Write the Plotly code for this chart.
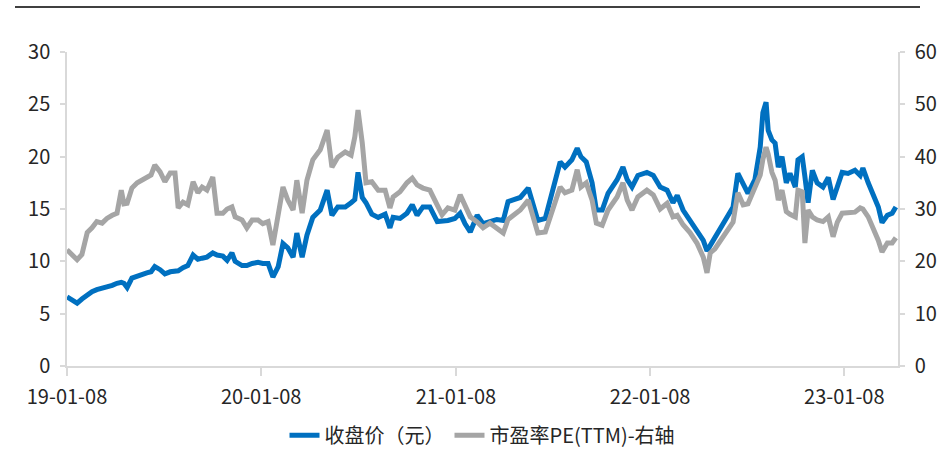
import plotly.graph_objects as go

dates = [
    "2019-01-08", "2019-01-17", "2019-01-27", "2019-02-05", "2019-02-15", "2019-02-24",
    "2019-03-05", "2019-03-15", "2019-03-24", "2019-04-03", "2019-04-12", "2019-04-20",
    "2019-04-25", "2019-05-01", "2019-05-10", "2019-05-20", "2019-05-29", "2019-06-07",
    "2019-06-15", "2019-06-22", "2019-07-02", "2019-07-11", "2019-07-21", "2019-07-30",
    "2019-08-05", "2019-08-14", "2019-08-23", "2019-09-02", "2019-09-11", "2019-09-19",
    "2019-09-28", "2019-10-09", "2019-10-17", "2019-10-28", "2019-11-05", "2019-11-14",
    "2019-11-20", "2019-12-03", "2019-12-12", "2019-12-22", "2020-01-02", "2020-01-11",
    "2020-01-21", "2020-01-30", "2020-02-09", "2020-02-18", "2020-02-27", "2020-03-08",
    "2020-03-15", "2020-03-25", "2020-04-03", "2020-04-14", "2020-04-28", "2020-05-11",
    "2020-05-20", "2020-05-31", "2020-06-14", "2020-06-25", "2020-07-02", "2020-07-08",
    "2020-07-16", "2020-07-23", "2020-08-03", "2020-08-15", "2020-08-28", "2020-09-06",
    "2020-09-12", "2020-09-25", "2020-10-08", "2020-10-18", "2020-10-27", "2020-11-07",
    "2020-11-20", "2020-12-04", "2020-12-13", "2020-12-24", "2021-01-06", "2021-01-16",
    "2021-01-25", "2021-02-04", "2021-02-17", "2021-02-28", "2021-03-13", "2021-03-26",
    "2021-04-07", "2021-04-16", "2021-04-27", "2021-05-09", "2021-05-24", "2021-05-31",
    "2021-06-11", "2021-06-25", "2021-07-08", "2021-07-23", "2021-08-01", "2021-08-14",
    "2021-08-24", "2021-08-31", "2021-09-10", "2021-09-21", "2021-09-29", "2021-10-10",
    "2021-10-21", "2021-11-07", "2021-11-18", "2021-11-26", "2021-12-05", "2021-12-16",
    "2022-01-02", "2022-01-14", "2022-01-27", "2022-02-09", "2022-02-20", "2022-02-28",
    "2022-03-11", "2022-03-24", "2022-04-06", "2022-04-18", "2022-04-25", "2022-05-01",
    "2022-05-10", "2022-05-23", "2022-06-04", "2022-06-13", "2022-06-22", "2022-07-02",
    "2022-07-11", "2022-07-24", "2022-08-03", "2022-08-08", "2022-08-14", "2022-08-18",
    "2022-08-25", "2022-08-31", "2022-09-06", "2022-09-13", "2022-09-21", "2022-09-28",
    "2022-10-08", "2022-10-13", "2022-10-21", "2022-10-26", "2022-11-01", "2022-11-09",
    "2022-11-18", "2022-11-29", "2022-12-09", "2022-12-18", "2022-12-26", "2023-01-04",
    "2023-01-15", "2023-01-28", "2023-02-07", "2023-02-12", "2023-02-22", "2023-03-03",
    "2023-03-13", "2023-03-20", "2023-03-30", "2023-04-08", "2023-04-15",
]

close_price = [
    6.6, 6.3, 6.0, 6.4, 6.8, 7.1,
    7.3, 7.4, 7.5, 7.7, 7.9, 8.0,
    7.9, 7.5, 8.4, 8.6, 8.8, 8.9,
    9.0, 9.5, 9.2, 8.8, 9.0, 9.0,
    9.1, 9.4, 9.6, 10.6, 10.2, 10.3,
    10.4, 10.8, 10.6, 10.5, 10.1, 10.8,
    10.0, 9.6, 9.6, 9.8, 9.9, 9.8,
    9.8, 8.5, 9.5, 11.7, 11.3, 10.4,
    12.7, 10.4, 12.5, 14.2, 14.9, 16.8,
    14.4, 15.2, 15.2, 15.6, 15.9, 18.5,
    16.1, 15.6, 14.5, 14.2, 14.5, 13.2,
    14.2, 14.1, 14.6, 15.4, 14.4, 15.2,
    15.2, 13.8, 13.8, 13.9, 14.1, 14.6,
    13.6, 12.8, 14.4, 13.6, 13.8, 14.0,
    13.9, 15.7, 15.9, 16.1, 17.0, 15.9,
    13.9, 14.1, 16.8, 19.5, 19.0, 19.7,
    20.8, 20.0, 19.5, 17.5, 14.9, 14.9,
    16.5, 17.8, 19.0, 17.8, 17.1, 18.2,
    18.5, 18.2, 17.1, 16.8, 15.6, 16.3,
    14.9, 13.9, 13.0, 12.0, 11.0, 11.5,
    12.3, 13.3, 14.4, 15.2, 18.4, 17.5,
    16.5, 17.8, 20.9, 24.2, 25.2, 22.5,
    21.6, 21.3, 19.0, 20.0, 17.5, 18.4,
    17.1, 19.7, 20.0, 18.1, 15.6, 18.7,
    17.5, 17.1, 18.0, 15.9, 17.1, 18.5,
    18.4, 18.7, 18.2, 18.9, 17.5, 16.5,
    15.2, 13.7, 14.4, 14.6, 15.2,
]

pe_ttm = [
    22.2, 21.4, 20.3, 21.3, 25.5, 26.4,
    27.6, 27.3, 28.2, 28.8, 29.2, 33.6,
    31.0, 31.1, 34.0, 35.0, 35.5, 36.0,
    36.5, 38.4, 37.1, 35.2, 36.9, 36.9,
    30.2, 31.3, 30.8, 35.2, 33.1, 34.2,
    33.6, 36.1, 29.2, 29.2, 30.0, 30.4,
    28.5, 27.9, 26.4, 27.9, 27.9, 27.2,
    27.6, 23.1, 28.5, 34.2, 31.7, 29.8,
    35.5, 29.2, 35.5, 39.4, 41.3, 45.1,
    38.0, 39.9, 40.9, 40.3, 43.8, 48.9,
    42.6, 35.0, 35.2, 33.6, 33.6, 30.2,
    32.3, 33.3, 35.0, 35.9, 34.6, 34.0,
    33.6, 30.4, 28.9, 30.2, 29.8, 32.7,
    30.5, 28.5, 27.5, 26.4, 27.3, 26.4,
    25.4, 28.0, 29.0, 29.8, 31.7, 29.5,
    25.4, 25.6, 29.8, 34.2, 33.1, 33.6,
    37.5, 34.2, 35.0, 31.7, 27.3, 26.9,
    29.8, 32.3, 35.0, 31.7, 29.8, 32.3,
    33.6, 32.7, 30.0, 31.1, 28.5, 28.8,
    27.0, 25.5, 23.5, 20.8, 17.8, 21.6,
    22.4, 24.5, 26.4, 27.5, 33.1, 30.8,
    31.0, 33.8, 36.5, 39.5, 41.8, 40.5,
    37.0, 35.5, 31.7, 33.6, 29.5, 29.0,
    28.5, 33.6, 33.3, 23.5, 29.8, 28.5,
    27.9, 27.6, 28.5, 24.7, 27.5, 29.2,
    29.4, 29.4, 30.2, 30.0, 28.5, 26.5,
    24.0, 21.8, 23.5, 23.5, 24.5,
]

tick_dates = ["2019-01-08", "2020-01-08", "2021-01-08", "2022-01-08", "2023-01-08"]
tick_labels = ["19-01-08", "20-01-08", "21-01-08", "22-01-08", "23-01-08"]
x_range = ["2019-01-08", "2023-04-19"]

name_price = "收盘价（元）"
name_pe = "市盈率PE(TTM)-右轴"

FONT = "Noto Sans CJK SC, Noto Sans, sans-serif"
TXT = "#262626"
AX = "#d9d9d9"
FS = 20

fig = go.Figure()
fig.add_trace(go.Scatter(x=dates, y=close_price, name=name_price, mode="lines",
                         line=dict(color="#0070C0", width=5), yaxis="y"))
fig.add_trace(go.Scatter(x=dates, y=pe_ttm, name=name_pe, mode="lines",
                         line=dict(color="#A5A5A5", width=5), yaxis="y2"))

fig.update_layout(
    width=944, height=456,
    margin=dict(l=67, r=46, t=52, b=90, autoexpand=False),
    paper_bgcolor="white", plot_bgcolor="white",
    font=dict(family=FONT, size=FS, color=TXT),
    showlegend=True,
    legend=dict(orientation="h", x=0.5, xanchor="center", y=-0.283, yanchor="bottom",
                font=dict(family=FONT, size=FS, color=TXT),
                bgcolor="rgba(0,0,0,0)"),
    xaxis=dict(type="date", range=x_range, tickmode="array", tickvals=tick_dates,
               ticktext=tick_labels, showgrid=False, zeroline=False,
               showline=True, linecolor=AX, linewidth=1.5,
               ticks="outside", ticklen=8, tickcolor=AX, tickwidth=1.5,
               ticklabelstandoff=4, tickfont=dict(family=FONT, size=FS, color=TXT)),
    yaxis=dict(range=[0, 30], dtick=5, tick0=0, showgrid=False, zeroline=False,
               showline=True, linecolor=AX, linewidth=1.5,
               ticks="outside", ticklen=5, tickcolor=AX, tickwidth=1.5,
               ticklabelstandoff=6, tickfont=dict(family=FONT, size=FS, color=TXT)),
    yaxis2=dict(range=[0, 60], dtick=10, tick0=0, overlaying="y", side="right",
                showgrid=False, zeroline=False,
                showline=True, linecolor=AX, linewidth=1.5,
                ticks="outside", ticklen=5, tickcolor=AX, tickwidth=1.5,
                ticklabelstandoff=6, tickfont=dict(family=FONT, size=FS, color=TXT)),
    shapes=[dict(type="line", xref="paper", yref="paper",
                 x0=-0.0626, x1=1.0265, y0=1.1433, y1=1.1433,
                 line=dict(color="black", width=1.5))],
)

fig.write_html("out.html")
